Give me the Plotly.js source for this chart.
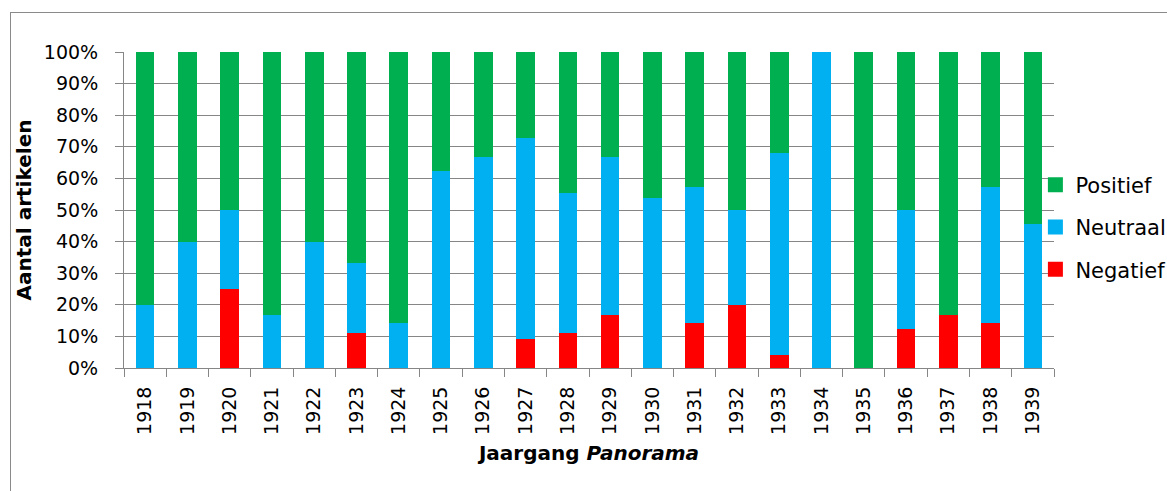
<!DOCTYPE html>
<html>
<head>
<meta charset="utf-8">
<script src="https://cdn.plot.ly/plotly-3.0.1.min.js"></script>
<style>
  html, body { margin: 0; padding: 0; background: #fff; }
  #wrap { position: relative; width: 1167px; height: 491px; overflow: hidden; }
  #chart { width: 1167px; height: 491px; }
  #frame { position: absolute; left: 10px; top: 12px; width: 1300px; height: 600px;
           border-left: 1px solid #8a8a8a; border-top: 1px solid #8a8a8a; pointer-events: none; }
</style>
</head>
<body>
<div id="wrap">
  <div id="chart"></div>
  <div id="frame"></div>
</div>
<script>
const years = ['1918','1919','1920','1921','1922','1923','1924','1925','1926','1927','1928',
               '1929','1930','1931','1932','1933','1934','1935','1936','1937','1938','1939'];
const negatief = [0, 0, 25, 0, 0, 11.1, 0, 0, 0, 9.1, 11.1, 16.7, 0, 14.3, 20, 4, 0, 0, 12.5, 16.7, 14.3, 0];
const neutraal = [20, 40, 25, 16.7, 40, 22.2, 14.3, 62.5, 66.7, 63.6, 44.4, 50, 53.8, 42.9, 30, 64, 100, 0, 37.5, 0, 42.9, 45.5];
const positief = [80, 60, 50, 83.3, 60, 66.7, 85.7, 37.5, 33.3, 27.3, 44.5, 33.3, 46.2, 42.8, 50, 32, 0, 100, 50, 83.3, 42.8, 54.5];
const seriesNames = ['Negatief', 'Neutraal', 'Positief'];
const yTickVals = [0, 10, 20, 30, 40, 50, 60, 70, 80, 90, 100];
const yTickText = ['0%', '10%', '20%', '30%', '40%', '50%', '60%', '70%', '80%', '90%', '100%'];

const colors = {Negatief: '#FF0000', Neutraal: '#00B0F0', Positief: '#00B050'};
const FONT = 'DejaVu Sans, sans-serif';

const seriesData = {Negatief: negatief, Neutraal: neutraal, Positief: positief};
const traces = [];
seriesNames.forEach(n => {
  traces.push({
    type: 'bar', name: n, x: years, y: seriesData[n],
    marker: {color: colors[n], line: {width: 0}},
    showlegend: false, hoverinfo: 'x+y+name'
  });
});
// legend entries (square markers)
seriesNames.slice().reverse().forEach(n => {
  traces.push({
    type: 'scatter', mode: 'markers', name: n, x: [null], y: [null],
    marker: {symbol: 'square', size: 15, color: colors[n]},
    legendgroup: n, showlegend: true, hoverinfo: 'skip'
  });
});

const layout = {
  width: 1167, height: 491,
  margin: {l: 124, r: 113, t: 52, b: 123, autoexpand: false},
  paper_bgcolor: '#fff', plot_bgcolor: '#fff',
  barmode: 'stack', bargap: 0.56,
  font: {family: FONT, size: 19, color: '#000'},
  xaxis: {
    type: 'category', tickangle: -90,
    tickson: 'boundaries', ticks: 'outside', ticklen: 8, tickcolor: '#868686', tickwidth: 1,
    showline: true, linecolor: '#868686', linewidth: 1,
    showgrid: false, zeroline: false,
    tickfont: {family: FONT, size: 19, color: '#000'},
    ticklabelstandoff: 10,
    title: {text: '<b>Jaargang <i>Panorama</i></b>', font: {family: FONT, size: 20, color: '#000'}, standoff: 12}
  },
  yaxis: {
    range: [0, 100], tickmode: 'array', tickvals: yTickVals, ticktext: yTickText,
    ticks: 'outside', ticklen: 8, tickcolor: '#868686', tickwidth: 1,
    showline: true, linecolor: '#868686', linewidth: 1,
    showgrid: true, gridcolor: '#868686', gridwidth: 1, zeroline: false,
    tickfont: {family: FONT, size: 19, color: '#000'},
    ticklabelstandoff: 13,
    title: {text: '<b>Aantal artikelen</b>', font: {family: FONT, size: 20, color: '#000'}, standoff: 6}
  },
  legend: {
    x: 0.980, xanchor: 'left', y: 0.446, yanchor: 'middle',
    bgcolor: 'rgba(0,0,0,0)', borderwidth: 0,
    traceorder: 'grouped', tracegroupgap: 12,
    font: {family: FONT, size: 21, color: '#000'}
  },
  showlegend: true
};

Plotly.newPlot('chart', traces, layout, {displayModeBar: false, staticPlot: true});
</script>
</body>
</html>
